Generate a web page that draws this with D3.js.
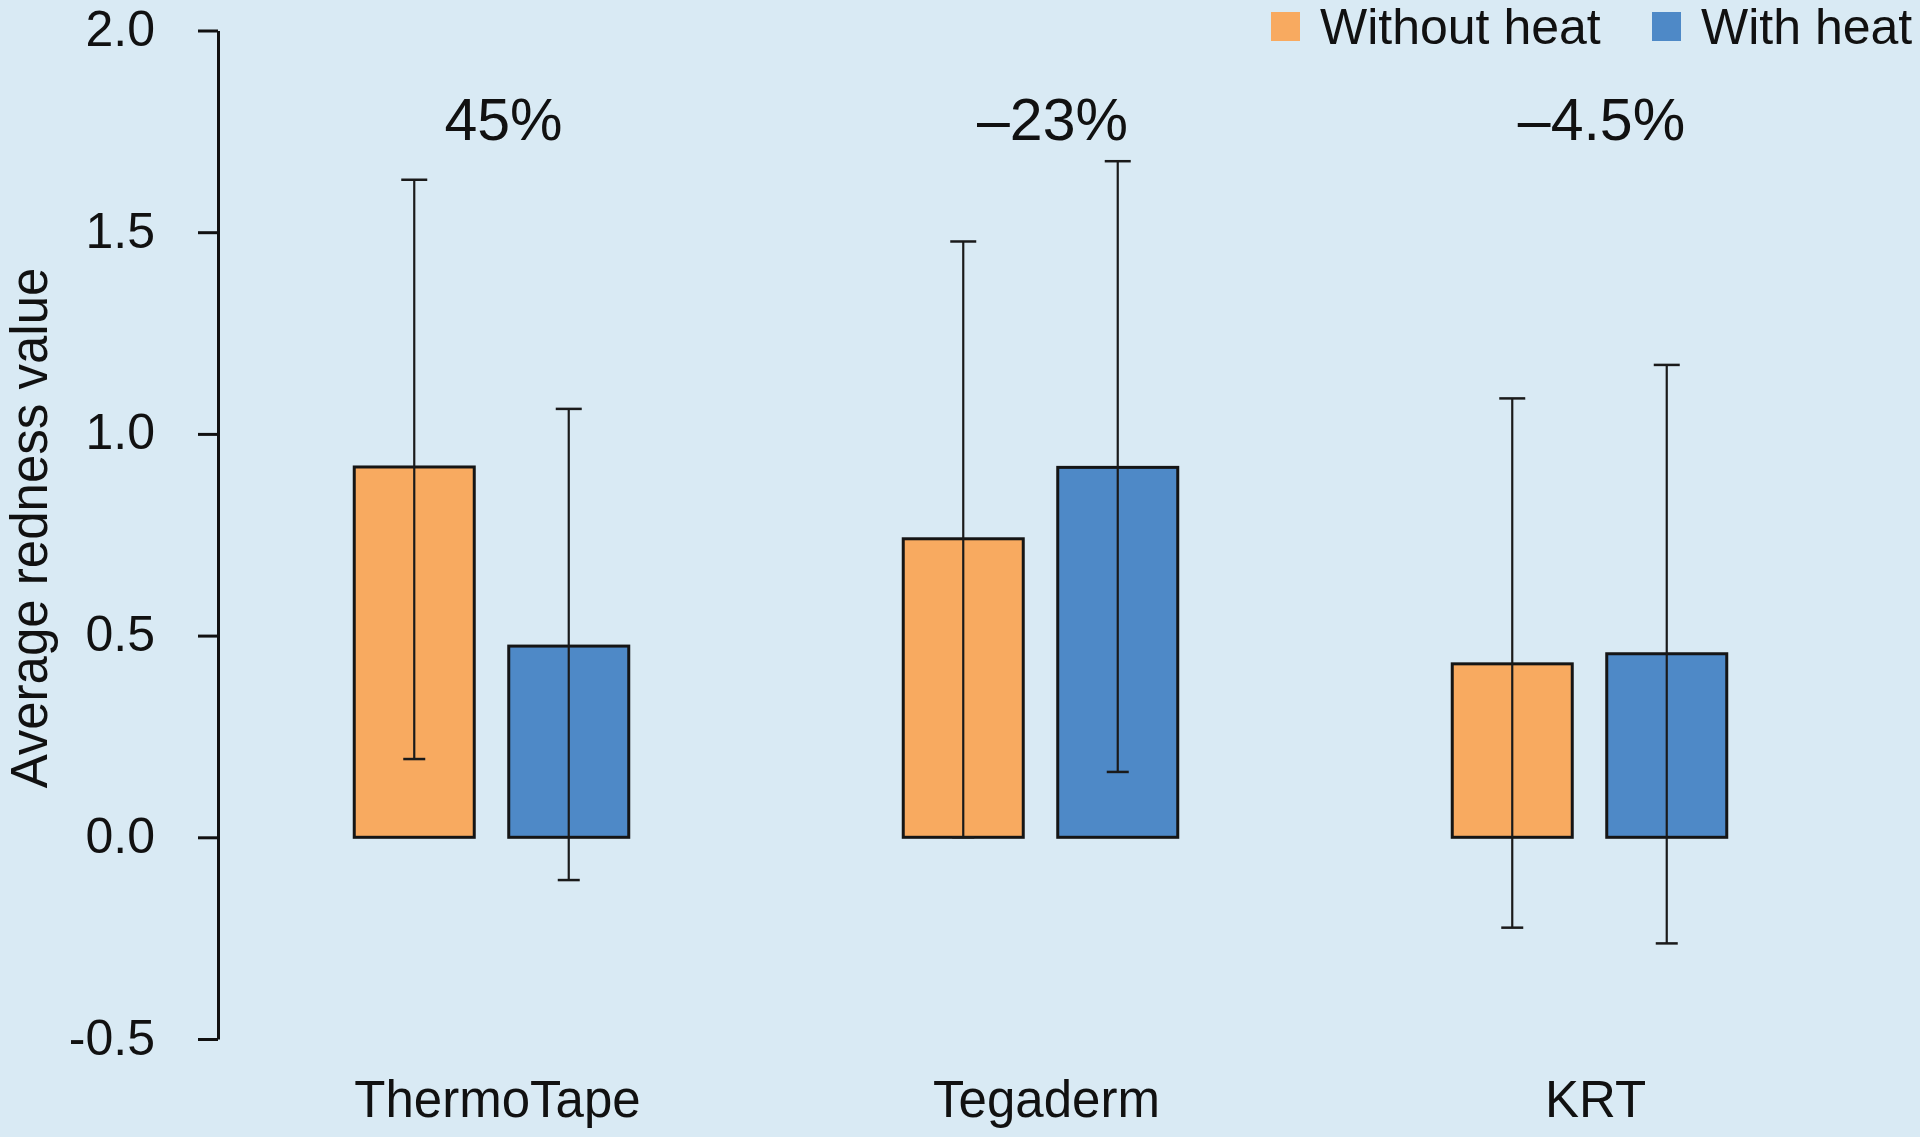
<!DOCTYPE html>
<html>
<head>
<meta charset="utf-8">
<script src="https://cdn.jsdelivr.net/npm/d3@7"></script>
<style>
  html, body { margin: 0; padding: 0; background: #D9EAF4; }
  svg { display: block; }
  text { font-family: "Liberation Sans", Arial, Helvetica, sans-serif; fill: #111; }
</style>
</head>
<body>
<svg id="chart" width="1920" height="1137"></svg>
<script>
// ---- data ----
const categories = ["ThermoTape", "Tegaderm", "KRT"];
const seriesNames = ["Without heat", "With heat"];
const withoutHeat = [0.918, 0.740, 0.430];
const withHeat = [0.474, 0.917, 0.455];
const withoutHeatHigh = [1.630, 1.477, 1.088];
const withoutHeatLow = [0.194, 0.000, -0.224];
const withHeatHigh = [1.062, 1.676, 1.171];
const withHeatLow = [-0.106, 0.162, -0.263];
const changeLabels = ["45%", "\u201323%", "\u20134.5%"];
const yTickValues = [-0.5, 0, 0.5, 1.0, 1.5, 2.0];
const yTickLabels = ["-0.5", "0.0", "0.5", "1.0", "1.5", "2.0"];
const yTitle = "Average redness value";
const colors = ["#F8AA60", "#4E89C7"];

// ---- layout ----
const svg = d3.select("#chart");
const W = 1920, H = 1137;
svg.append("rect").attr("width", W).attr("height", H).attr("fill", "#D9EAF4");

const y = d3.scaleLinear().domain([-0.5, 2.0]).range([1039, 30.5]);
const x0 = d3.scaleBand().domain(categories).range([217, 1864])
  .paddingInner(0.5).paddingOuter(0.25);
const x1 = d3.scaleBand().domain(seriesNames).range([0, x0.bandwidth()])
  .paddingInner(0.2233).paddingOuter(0);
const color = d3.scaleOrdinal().domain(seriesNames).range(colors);

const rows = [];
categories.forEach((c, i) => {
  rows.push({cat: c, s: seriesNames[0], v: withoutHeat[i], hi: withoutHeatHigh[i], lo: withoutHeatLow[i]});
  rows.push({cat: c, s: seriesNames[1], v: withHeat[i], hi: withHeatHigh[i], lo: withHeatLow[i]});
});

// ---- y axis ----
const yAxis = d3.axisLeft(y)
  .tickValues(yTickValues)
  .tickFormat((d, i) => yTickLabels[i])
  .tickSize(20).tickSizeOuter(0).tickPadding(43);
const ga = svg.append("g").attr("transform", "translate(218,0)").call(yAxis);
ga.select(".domain").attr("stroke", "#111").attr("stroke-width", 3);
ga.selectAll(".tick line").attr("stroke", "#111").attr("stroke-width", 3);
ga.selectAll(".tick text").attr("font-size", 50)
  .attr("font-family", "'Liberation Sans', Arial, sans-serif")
  .attr("fill", "#111").attr("dy", "0.3em");

svg.append("text")
  .attr("transform", `translate(47, 528) rotate(-90)`)
  .attr("text-anchor", "middle")
  .attr("font-size", 51)
  .text(yTitle);

// ---- bars ----
const g = svg.append("g");
g.selectAll("rect.bar").data(rows).enter().append("rect")
  .attr("class", "bar")
  .attr("x", d => x0(d.cat) + x1(d.s))
  .attr("y", d => y(d.v))
  .attr("width", x1.bandwidth())
  .attr("height", d => y(0) - y(d.v))
  .attr("fill", d => color(d.s))
  .attr("stroke", "#151515")
  .attr("stroke-width", 3);

// ---- error bars ----
const cx = d => x0(d.cat) + x1(d.s) + x1.bandwidth() / 2;
g.selectAll("line.err").data(rows).enter().append("line")
  .attr("x1", cx).attr("x2", cx)
  .attr("y1", d => y(d.lo)).attr("y2", d => y(d.hi))
  .attr("stroke", "#1a1a1a").attr("stroke-width", 2.2);
g.selectAll("line.capHi").data(rows).enter().append("line")
  .attr("x1", d => cx(d) - 13).attr("x2", d => cx(d) + 13)
  .attr("y1", d => y(d.hi)).attr("y2", d => y(d.hi))
  .attr("stroke", "#1a1a1a").attr("stroke-width", 2.5);
g.selectAll("line.capLo").data(rows).enter().append("line")
  .attr("x1", d => cx(d) - 11).attr("x2", d => cx(d) + 11)
  .attr("y1", d => y(d.lo)).attr("y2", d => y(d.lo))
  .attr("stroke", "#1a1a1a").attr("stroke-width", 2.5);

// ---- percent labels ----
svg.selectAll("text.pct").data(categories).enter().append("text")
  .attr("class", "pct")
  .attr("x", d => x0(d) + x0.bandwidth() / 2 + 12)
  .attr("y", 140)
  .attr("text-anchor", "middle")
  .attr("font-size", 59)
  .text((d, i) => changeLabels[i]);

// ---- category labels ----
svg.selectAll("text.cat").data(categories).enter().append("text")
  .attr("class", "cat")
  .attr("x", d => x0(d) + x0.bandwidth() / 2 + 6)
  .attr("y", 1117)
  .attr("text-anchor", "middle")
  .attr("font-size", 51)
  .text(d => d);

// ---- legend ----
const legendX = [1271, 1652];
const lg = svg.selectAll("g.leg").data(seriesNames).enter().append("g")
  .attr("transform", (d, i) => `translate(${legendX[i]}, 12)`);
lg.append("rect").attr("width", 29).attr("height", 29).attr("fill", d => color(d));
lg.append("text").attr("x", 49).attr("y", 32).attr("font-size", 50).text(d => d);
</script>
</body>
</html>
